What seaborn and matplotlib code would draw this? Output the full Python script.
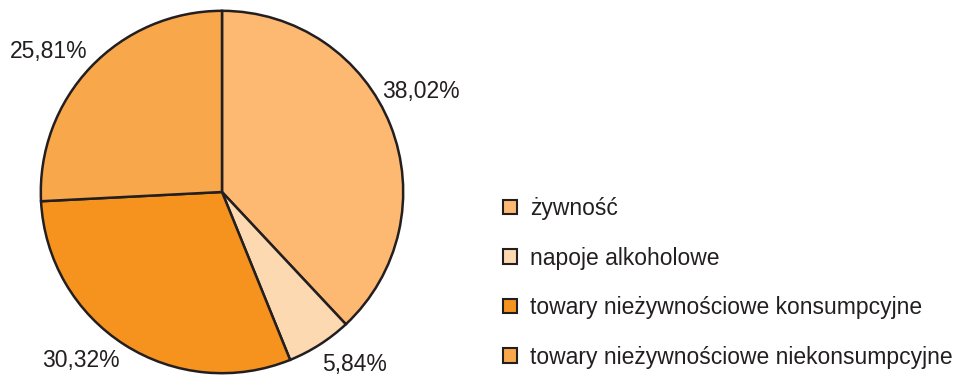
import matplotlib
matplotlib.use("Agg")
import matplotlib.pyplot as plt
from matplotlib.patches import Patch
import seaborn as sns

categories = [
    "żywność",
    "napoje alkoholowe",
    "towary nieżywnościowe konsumpcyjne",
    "towary nieżywnościowe niekonsumpcyjne",
]
shares = [38.02, 5.84, 30.32, 25.81]
share_labels = ["38,02%", "5,84%", "30,32%", "25,81%"]
colors = ["#FDB972", "#FDD9B2", "#F6921E", "#F8A84B"]

# label anchor points in pie-radius units
label_xy = [(1.10, 0.557), (0.732, -0.951), (-0.781, -0.929), (-0.956, 0.776)]

sns.set_theme(style="white")
plt.rcParams["font.family"] = ["Liberation Sans", "DejaVu Sans"]

W, H = 954, 376
fig = plt.figure(figsize=(W / 100, H / 100), dpi=100)
fig.patch.set_facecolor("white")

cx, cy, r = 222, 184, 183
ax = fig.add_axes([(cx - r) / W, (cy - r) / H, 2 * r / W, 2 * r / H])
ax.set_facecolor("none")

edge = "#231F20"
ax.pie(
    shares,
    colors=colors,
    startangle=90,
    counterclock=False,
    radius=1.0,
    wedgeprops=dict(edgecolor=edge, linewidth=1.8),
)
ax.set_xlim(-1.01, 1.01)
ax.set_ylim(-1.01, 1.01)
ax.set_aspect("equal")
ax.axis("off")

fs = 16.5
for txt, (lx, ly) in zip(share_labels, label_xy):
    ax.text(lx, ly, txt, ha="center", va="center", fontsize=fs,
            color="#231F20", clip_on=False)

handles = [Patch(facecolor=c, edgecolor=edge, linewidth=1.5) for c in colors]
fig.legend(
    handles,
    categories,
    loc="upper left",
    bbox_to_anchor=(503 / W, 1 - 197 / H),
    frameon=False,
    fontsize=fs,
    handlelength=0.6,
    handleheight=0.6,
    handletextpad=0.57,
    labelspacing=1.16,
    borderpad=0,
    borderaxespad=0,
    labelcolor="#231F20",
)

fig.savefig("out.png", dpi=100, facecolor="white")
